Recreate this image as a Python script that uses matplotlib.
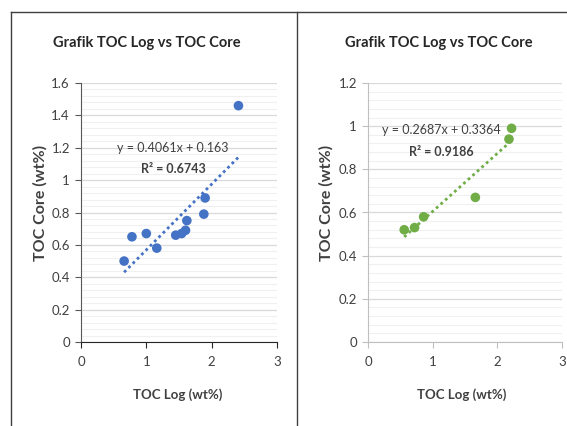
import matplotlib
matplotlib.use('Agg')
import matplotlib.pyplot as plt
from matplotlib.lines import Line2D
from matplotlib.ticker import MultipleLocator, FuncFormatter

plt.rcParams['font.family'] = ['Lato', 'DejaVu Sans']

# data
log_left = [0.66, 0.78, 1.00, 1.16, 1.45, 1.54, 1.60, 1.62, 1.88, 1.90, 2.41]
core_left = [0.50, 0.65, 0.67, 0.58, 0.66, 0.67, 0.69, 0.75, 0.79, 0.89, 1.46]
fit_left = (0.4061, 0.163)

log_right = [0.56, 0.72, 0.86, 1.66, 2.18, 2.22]
core_right = [0.52, 0.53, 0.58, 0.67, 0.94, 0.99]
fit_right = (0.2687, 0.3364)

title = 'Grafik TOC Log vs TOC Core'
xlab = 'TOC Log (wt%)'
ylab = 'TOC Core (wt%)'

fig = plt.figure(figsize=(5.67, 4.26), dpi=100)

# outer frame lines
for xs, ys in [([11/567, 1], [1-12/426, 1-12/426]),
               ([11/567, 11/567], [0, 1-12/426]),
               ([297/567, 297/567], [0, 1-12/426])]:
    fig.add_artist(Line2D(xs, ys, color='#404040', lw=1.0, transform=fig.transFigure))


def fmt(v, pos):
    return '%g' % round(v, 2)


def panel(rect, xs, ys, fit, color, ymax, ystep, eq_pos, r2_pos, eq, r2, spine_x, spine_y):
    ax = fig.add_axes(rect)
    ax.set_xlim(0, 3)
    ax.set_ylim(0, ymax)
    ax.xaxis.set_major_locator(MultipleLocator(1))
    ax.yaxis.set_major_locator(MultipleLocator(ystep))
    ax.yaxis.set_minor_locator(MultipleLocator(ystep / 5))
    ax.yaxis.set_major_formatter(FuncFormatter(fmt))
    ax.grid(axis='y', which='major', color='#D9D9D9', lw=0.9)
    ax.grid(axis='y', which='minor', color='#F0F0F0', lw=0.8)
    ax.set_axisbelow(True)
    for s in ['top', 'right']:
        ax.spines[s].set_visible(False)
    ax.spines['bottom'].set_color(spine_x)
    ax.spines['left'].set_color(spine_y)
    ax.tick_params(axis='x', colors=spine_x, labelcolor='#404040', length=4, labelsize=9.5, pad=6)
    ax.tick_params(axis='y', colors=spine_y, labelcolor='#404040', length=4, labelsize=9.5, pad=4)
    ax.tick_params(which='minor', length=0)

    ax.scatter(xs, ys, s=48, color=color, zorder=3, edgecolors='none')
    x0, x1 = min(xs), max(xs)
    a, b = fit
    ax.plot([x0, x1], [a * x0 + b, a * x1 + b], color=color, lw=2, ls=(0, (1, 1.2)), zorder=2)
    ax.text(eq_pos[0], eq_pos[1], eq, ha='center', va='center', fontsize=9, color='#404040')
    ax.text(r2_pos[0], r2_pos[1], r2, ha='center', va='center', fontsize=9,
            fontweight='bold', color='#404040')
    return ax


panel([81/567, 1-342/426, 196/567, 259/426], log_left, core_left, fit_left, '#4472C4',
      1.6, 0.2, (1.40, 1.20), (1.41, 1.07),
      'y = 0.4061x + 0.163', 'R² = 0.6743', '#262626', '#595959')
panel([368/567, 1-342/426, 194/567, 259/426], log_right, core_right, fit_right, '#70AD47',
      1.2, 0.2, (1.13, 0.98), (1.14, 0.88),
      'y = 0.2687x + 0.3364', 'R² = 0.9186', '#BFBFBF', '#BFBFBF')

# titles and axis labels
fig.text(147/567, 1-43/426, title, ha='center', va='center', fontsize=10.5, fontweight='bold', color='#262626')
fig.text(439/567, 1-43/426, title, ha='center', va='center', fontsize=10.5, fontweight='bold', color='#262626')
fig.text(178/567, 1-395/426, xlab, ha='center', va='center', fontsize=9.5, fontweight='bold', color='#404040')
fig.text(462/567, 1-395/426, xlab, ha='center', va='center', fontsize=9.5, fontweight='bold', color='#404040')
fig.text(40/567, 1-203/426, ylab, ha='center', va='center', rotation=90, fontsize=11.5, fontweight='bold', color='#404040')
fig.text(326/567, 1-203/426, ylab, ha='center', va='center', rotation=90, fontsize=11.5, fontweight='bold', color='#404040')

fig.savefig('out.png', dpi=100)
